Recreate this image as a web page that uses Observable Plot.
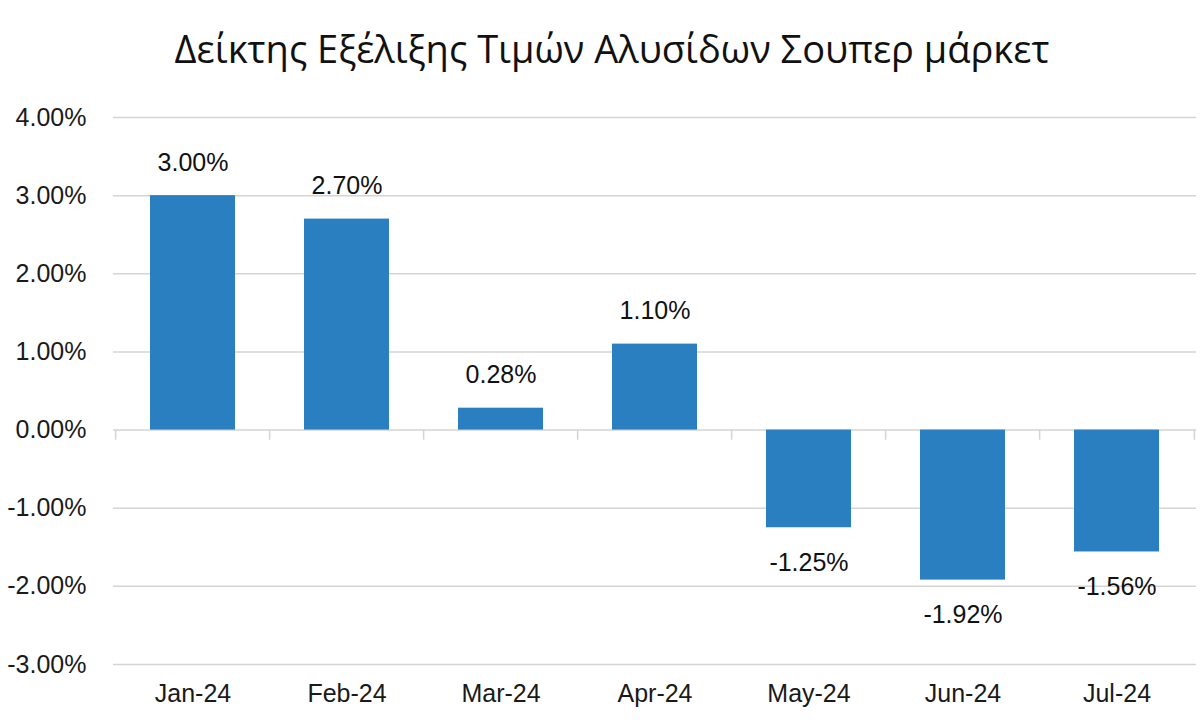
<!DOCTYPE html>
<html>
<head>
<meta charset="utf-8">
<script src="https://cdn.jsdelivr.net/npm/d3@7"></script>
<script src="https://cdn.jsdelivr.net/npm/@observablehq/plot@0.6"></script>
<style>
  html, body { margin: 0; padding: 0; background: #fff; }
  #title { height: 90px; line-height: 96px; text-align: center; font-family: "Open Sans", "Noto Sans", sans-serif; font-size: 38px; color: #111; padding-left: 24px; white-space: nowrap; }
  #chart svg { display: block; }
</style>
</head>
<body>
<div id="title">Δείκτης Εξέλιξης Τιμών Αλυσίδων Σουπερ μάρκετ</div>
<div id="chart"></div>
<script>
const months = ["Jan-24", "Feb-24", "Mar-24", "Apr-24", "May-24", "Jun-24", "Jul-24"];
const values = [3.00, 2.70, 0.28, 1.10, -1.25, -1.92, -1.56];
const yTicks = [-3, -2, -1, 0, 1, 2, 3, 4];

const data = months.map((m, i) => ({month: m, value: values[i]}));
const fmt = d => d.toFixed(2) + "%";

const W = 1200, H = 635, ML = 113, MR = 4;
const step = (W - ML - MR) / months.length;
const font = "'Liberation Sans', Arial, sans-serif";

const chart = Plot.plot({
  width: W, height: H,
  marginTop: 27, marginBottom: 61, marginLeft: ML, marginRight: MR,
  style: {fontFamily: font, fontSize: "25px", color: "#1a1a1a", background: "#fff"},
  x: {domain: months, paddingInner: 0.45, paddingOuter: 0.225, label: null},
  y: {domain: [-3, 4], label: null},
  marks: [
    Plot.gridY(yTicks, {stroke: "#d4d4d4", strokeOpacity: 1, strokeWidth: 1.5}),
    Plot.ruleX(months, {x: d => d, y1: 0, y2: -0.13, dx: -step / 2, stroke: "#d4d4d4", strokeWidth: 1.5}),
    Plot.ruleX(months.slice(-1), {x: d => d, y1: 0, y2: -0.13, dx: step / 2, stroke: "#d4d4d4", strokeWidth: 1.5}),
    Plot.barY(data, {x: "month", y: "value", fill: "#2a7fc1"}),
    Plot.text(data.filter(d => d.value >= 0), {x: "month", y: "value", text: d => fmt(d.value), dy: -33, fontSize: 25, fill: "#111"}),
    Plot.text(data.filter(d => d.value < 0), {x: "month", y: "value", text: d => fmt(d.value), dy: 35, fontSize: 25, fill: "#111"}),
    Plot.axisY({ticks: yTicks, tickSize: 0, tickPadding: 27, tickFormat: fmt, label: null, fontSize: 25}),
    Plot.axisX({tickSize: 0, tickPadding: 20, label: null, fontSize: 25})
  ]
});
document.getElementById("chart").appendChild(chart);
</script>
</body>
</html>
